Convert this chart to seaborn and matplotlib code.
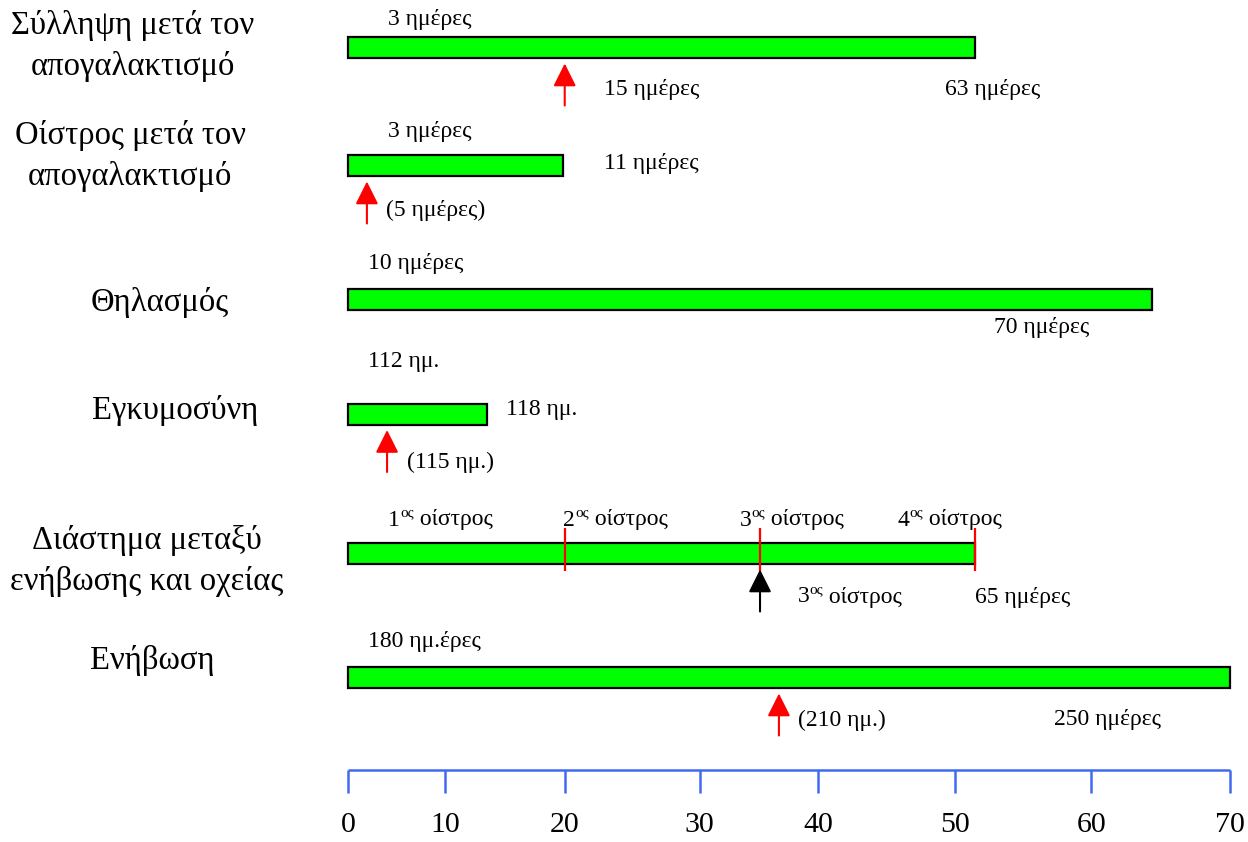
import numpy as np
import matplotlib
matplotlib.use("Agg")
import matplotlib.pyplot as plt
import seaborn as sns

# Χρονοδιάγραμμα αναπαραγωγικών περιόδων (σχηματικό)

row_labels = ["Σύλληψη μετά τον\nαπογαλακτισμό",
              "Οίστρος μετά τον\nαπογαλακτισμό",
              "Θηλασμός",
              "Εγκυμοσύνη",
              "Διάστημα μεταξύ\nενήβωσης και οχείας",
              "Ενήβωση"]
bar_end = [49.8, 17.1, 63.8, 11.0, 49.8, 70.0]

tick_pos = [0, 7.7, 17.2, 27.9, 37.3, 48.2, 59.0, 70.0]
tick_labels = ["0", "10", "20", "30", "40", "50", "60", "70"]

# σημειώσεις: (κείμενο, θέση x, γραμμή)
notes = [("3 ημέρες", 3.2, 0), ("15 ημέρες", 20.3, 0), ("63 ημέρες", 47.4, 0),
         ("3 ημέρες", 3.2, 1), ("11 ημέρες", 20.3, 1), ("(5 ημέρες)", 3.0, 1),
         ("10 ημέρες", 1.6, 2), ("70 ημέρες", 51.3, 2),
         ("112 ημ.", 1.6, 3), ("118 ημ.", 12.5, 3), ("(115 ημ.)", 4.7, 3),
         ("65 ημέρες", 49.8, 4),
         ("180 ημ.έρες", 1.6, 5), ("(210 ημ.)", 35.7, 5), ("250 ημέρες", 56.0, 5)]

oestrus_num = ["1", "2", "3", "4"]
oestrus_x = [3.2, 17.1, 31.1, 43.6]
oestrus_marks = [17.2, 32.7, 49.8]

arrow_x = [17.2, 1.5, 3.1, 32.7, 34.2]
arrow_row = [0, 1, 3, 4, 5]
arrow_col = ["red", "red", "red", "black", "red"]

# layout (pixel-ish rows)
row_y = [47.5, 165.5, 299.5, 414, 553.5, 677.5]
label_y = [46, 156, 302, 410, 561, 660]
label_x = [133, 130, 160, 175, 147, 152]
note_y = [20, 90, 90, 131, 163, 210, 263, 328, 362, 410, 462, 597, 642, 720, 720]
PX = 12.6
X0 = 348

sns.set_theme(style="white")
plt.rcParams["font.family"] = ["Liberation Serif", "DejaVu Serif"]
plt.rcParams["text.color"] = "black"

fig = plt.figure(figsize=(12.48, 8.42), dpi=100)
ax = fig.add_axes([0, 0, 1, 1])
ax.set_xlim(-X0 / PX, (1248 - X0) / PX)
ax.set_ylim(842, 0)
ax.axis("off")

# μπάρες
ax.barh(row_y, bar_end, left=0, height=21, color="#00FF00",
        edgecolor="black", linewidth=1.6, zorder=2)

# ετικέτες γραμμών
for lab, lx, ly in zip(row_labels, label_x, label_y):
    ax.text((lx - X0) / PX, ly, lab, fontsize=23.5, ha="center", va="center",
            linespacing=1.4)

# σημειώσεις
for (txt, x, r), ny in zip(notes, note_y):
    ax.text(x, ny, txt, fontsize=17, ha="left", va="center")

# οίστροι πάνω από την μπάρα 5
for num, ox in zip(oestrus_num, oestrus_x):
    t = ax.text(ox, 520, num, fontsize=17, ha="left", va="center")
    s = ax.annotate("ος", xy=(1, 0.55), xycoords=t, fontsize=11,
                    ha="left", va="bottom")
    ax.annotate(" οίστρος", xy=(1, 0), xycoords=(s, t), fontsize=17,
                ha="left", va="bottom")

t = ax.text(35.7, 597, "3", fontsize=17, ha="left", va="center")
s = ax.annotate("ος", xy=(1, 0.55), xycoords=t, fontsize=11, ha="left", va="bottom")
ax.annotate(" οίστρος", xy=(1, 0), xycoords=(s, t), fontsize=17, ha="left", va="bottom")

ax.vlines(oestrus_marks, 528, 571, color="red", lw=1.6, zorder=3)

# βέλη
for x, r, c in zip(arrow_x, arrow_row, arrow_col):
    tip = row_y[r] + 16
    ax.annotate("", xy=(x, tip), xytext=(x, tip + 42),
                arrowprops=dict(arrowstyle="-|>,head_length=1.0,head_width=0.5",
                                color=c, lw=1.5, mutation_scale=14,
                                shrinkA=0, shrinkB=0), zorder=4)

# άξονας
ax.hlines(770, tick_pos[0], tick_pos[-1], color="#4169F0", lw=1.8)
ax.vlines(tick_pos, 770, 793, color="#4169F0", lw=1.8)
for tp, tl in zip(tick_pos, tick_labels):
    ax.text(tp, 825, tl, fontsize=21.5, ha="center", va="center")

fig.savefig("out.png", dpi=100)
